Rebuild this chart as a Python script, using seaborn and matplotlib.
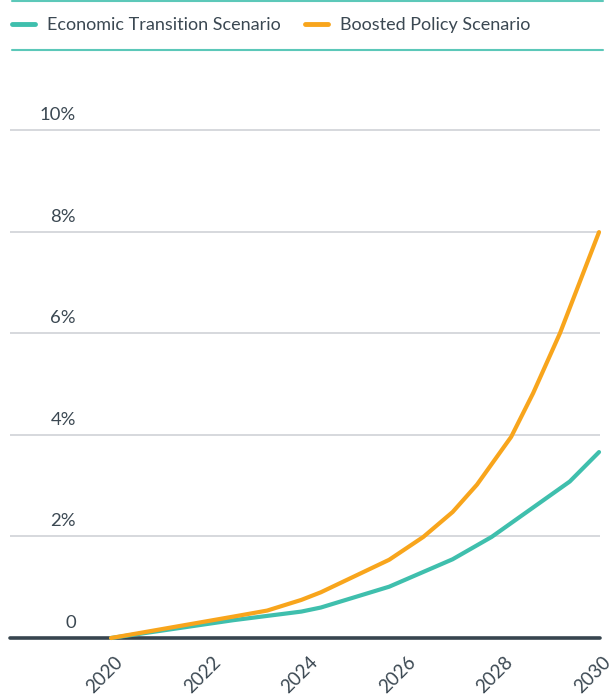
import matplotlib
matplotlib.use("Agg")
import matplotlib.pyplot as plt
import matplotlib.transforms as mtransforms
from matplotlib.lines import Line2D
import seaborn as sns
import pandas as pd

# ---- data ----
series_names = ["Economic Transition Scenario", "Boosted Policy Scenario"]
ets_years = [2020.0, 2022.5, 2023.9, 2024.3, 2025.7, 2027.0, 2027.8, 2029.4, 2030.0]
ets_values = [0.0, 0.35, 0.52, 0.60, 1.01, 1.55, 1.99, 3.08, 3.66]
bps_years = [2020.0, 2022.5, 2023.2, 2023.9, 2024.3, 2025.7, 2026.4, 2027.0, 2027.5,
             2028.2, 2028.65, 2029.2, 2030.0]
bps_values = [0.0, 0.42, 0.54, 0.75, 0.90, 1.54, 1.99, 2.48, 3.02, 3.96, 4.82, 6.0, 7.99]
x_ticks = [2020, 2022, 2024, 2026, 2028, 2030]
y_ticks = [0, 2, 4, 6, 8, 10]
y_tick_labels = ["0", "2%", "4%", "6%", "8%", "10%"]

TEAL = "#3fbfad"
ORANGE = "#f8a51c"
TEXT = "#3b4852"
GRID = "#d3d6da"
ZERO = "#37454f"

df = pd.concat([
    pd.DataFrame({"year": ets_years, "value": ets_values, "scenario": series_names[0]}),
    pd.DataFrame({"year": bps_years, "value": bps_values, "scenario": series_names[1]}),
], ignore_index=True)

sns.set_theme(style="white")
plt.rcParams["font.family"] = ["Lato", "DejaVu Sans"]

W, H, DPI = 613, 697, 100
fig = plt.figure(figsize=(W / DPI, H / DPI), dpi=DPI)
ax_left, ax_right = 10 / W, 600 / W
ax_bottom = (H - 638) / H
ax_top = (H - 79.2) / H
ax = fig.add_axes([ax_left, ax_bottom, ax_right - ax_left, ax_top - ax_bottom])

sns.lineplot(data=df, x="year", y="value", hue="scenario", hue_order=series_names,
             palette=[TEAL, ORANGE], linewidth=3.0, ax=ax, legend=False,
             estimator=None, sort=False)
for ln in ax.get_lines():
    ln.set_solid_capstyle("round")
    ln.set_solid_joinstyle("round")
    ln.set_clip_on(False)
    ln.set_zorder(4)

ax.set_xlim(2017.93, 2030.02)
ax.set_ylim(0, 11)
ax.set_xlabel("")
ax.set_ylabel("")

# gridlines
for yv in y_ticks[1:]:
    ax.axhline(yv, color=GRID, linewidth=1.3, zorder=1)
ax.axhline(0, color=ZERO, linewidth=2.6, zorder=3, clip_on=False)

for s in ax.spines.values():
    s.set_visible(False)

# y tick labels above gridlines
ax.set_yticks([])
off = mtransforms.offset_copy(ax.get_yaxis_transform(), fig=fig, x=0, y=10, units="dots")
for yv, lab in zip(y_ticks, y_tick_labels):
    ax.text(0.112, yv, lab, transform=off, ha="right", va="baseline",
            fontsize=13.3, color=TEXT)

# x ticks
ax.set_xticks(x_ticks)
ax.set_xticklabels([str(t) for t in x_ticks], rotation=45, ha="right",
                   rotation_mode="anchor", va="top", fontsize=13.5, color=TEXT)
ax.tick_params(axis="x", length=0, pad=11)
shift = mtransforms.ScaledTranslation(3 / DPI, 0, fig.dpi_scale_trans)
for lab in ax.get_xticklabels():
    lab.set_transform(lab.get_transform() + shift)

# legend
handles = [Line2D([], [], color=TEAL, linewidth=3.5, solid_capstyle="round"),
           Line2D([], [], color=ORANGE, linewidth=3.5, solid_capstyle="round")]
leg = fig.legend(handles, series_names, loc="center left",
                 bbox_to_anchor=(12 / W, (H - 25) / H), ncol=2, frameon=False,
                 fontsize=13, handlelength=1.27, handletextpad=0.66,
                 columnspacing=1.35, borderpad=0, borderaxespad=0)
for t in leg.get_texts():
    t.set_color(TEXT)

# separator lines around legend
for yy in (1, 50):
    fig.add_artist(Line2D([12 / W, 603 / W], [(H - yy) / H, (H - yy) / H],
                          color="#5cc8b9", linewidth=1.5, transform=fig.transFigure))

fig.savefig("out.png", dpi=DPI)
